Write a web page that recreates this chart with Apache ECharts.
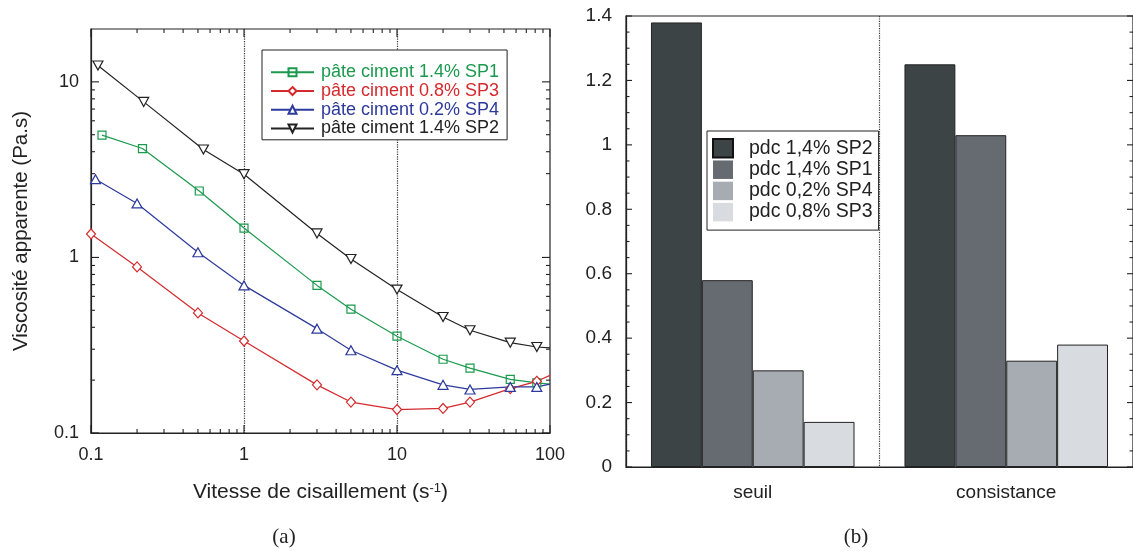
<!DOCTYPE html>
<html><head><meta charset="utf-8">
<script src="https://cdn.jsdelivr.net/npm/echarts@6/dist/echarts.min.js"></script>
<style>html,body{margin:0;padding:0;background:#fff}#c{width:1133px;height:551px}</style>
</head><body><div id="c"></div>
<script>
// ---------- (a) apparent viscosity vs shear rate ----------
const lineNames = ['pâte ciment 1.4% SP1', 'pâte ciment 0.8% SP3', 'pâte ciment 0.2% SP4', 'pâte ciment 1.4% SP2'];
const xSP1 = [0.118, 0.217, 0.51, 1, 3, 5, 10, 20, 30, 55, 82, 100];
const ySP1 = [4.97, 4.17, 2.39, 1.47, 0.693, 0.507, 0.356, 0.263, 0.234, 0.202, 0.193, 0.19];
const xSP3 = [0.1, 0.2, 0.5, 1, 3, 5, 10, 20, 30, 55, 82, 100];
const ySP3 = [1.36, 0.883, 0.483, 0.334, 0.188, 0.150, 0.136, 0.138, 0.150, 0.179, 0.197, 0.213];
const xSP4 = [0.107, 0.2, 0.5, 1, 3, 5, 10, 20, 30, 55, 82, 100];
const ySP4 = [2.79, 2.03, 1.07, 0.693, 0.393, 0.296, 0.228, 0.188, 0.177, 0.183, 0.183, 0.19];
const xSP2 = [0.111, 0.221, 0.543, 1, 3, 5, 10, 20, 30, 55, 82, 100];
const ySP2 = [12.4, 7.69, 4.12, 2.98, 1.37, 0.98, 0.656, 0.458, 0.385, 0.327, 0.309, 0.305];
const xTickLabels = [0.1, 1, 10, 100];
const yTickLabels = [0.1, 1, 10];

// ---------- (b) bar chart ----------
const barCategories = ['seuil', 'consistance'];
const barNames = ['pdc 1,4% SP2', 'pdc 1,4% SP1', 'pdc 0,2% SP4', 'pdc 0,8% SP3'];
const barSP2 = [1.38, 1.25];
const barSP1 = [0.58, 1.03];
const barSP4 = [0.30, 0.33];
const barSP3 = [0.14, 0.38];
const barYTicks = [0, 0.2, 0.4, 0.6, 0.8, 1, 1.2, 1.4];

const FONT = 'Liberation Sans, Arial, sans-serif';
const lineColors = ['#1b9a4e', '#d42a2e', '#2d3a9c', '#222222'];
const barColors = ['#3d4446', '#656b71', '#a7acb3', '#d8dbdf'];

const lineDefs = [
  {x: xSP1, y: ySP1, symbol: 'rect', size: 8, rotate: 0, fill: 'rgba(0,0,0,0)'},
  {x: xSP3, y: ySP3, symbol: 'diamond', size: [9, 10], rotate: 0, fill: '#fff'},
  {x: xSP4, y: ySP4, symbol: 'triangle', size: [10, 9], rotate: 0, fill: '#fff'},
  {x: xSP2, y: ySP2, symbol: 'triangle', size: [10, 9], rotate: 180, fill: '#fff'}
];

const isPow10 = v => Math.abs(Math.log10(v) - Math.round(Math.log10(v))) < 1e-6;

// tick decoration values for the log chart (major decades + minor 2..9)
const tickData = [];
xTickLabels.forEach(v => tickData.push([v, 1, 8, 0]));
[0.1, 1, 10].forEach(d => { for (let k = 2; k <= 9; k++) tickData.push([k * d, 1, 4, 0]); });
yTickLabels.forEach(v => tickData.push([1, v, 8, 1]));
[0.1, 1].forEach(d => { for (let k = 2; k <= 9; k++) tickData.push([1, k * d, 4, 1]); });

// tick decoration values for the bar chart (0.2 majors, 0.05 minors)
const barTickData = [];
barYTicks.forEach((v, i) => {
  barTickData.push([0, v, 6]);
  if (i < barYTicks.length - 1) for (let k = 1; k <= 3; k++) barTickData.push([0, +(v + k * 0.05).toFixed(2), 3.5]);
});

const lineSeries = lineDefs.map((d, i) => ({
  type: 'line', name: lineNames[i], xAxisIndex: 0, yAxisIndex: 0,
  data: d.x.map((xv, j) => j === d.x.length - 1 ? {value: [xv, d.y[j]], symbol: 'none'} : [xv, d.y[j]]),
  symbol: d.symbol, symbolSize: d.size, symbolRotate: d.rotate, showAllSymbol: true,
  clip: false, z: 3,
  lineStyle: {color: lineColors[i], width: 1.2},
  itemStyle: {color: d.fill, borderColor: lineColors[i], borderWidth: 1.2},
  emphasis: {disabled: true}
}));

const barData = [barSP2, barSP1, barSP4, barSP3];
const barSeries = barNames.map((n, i) => ({
  type: 'bar', name: n, xAxisIndex: 1, yAxisIndex: 1, data: barData[i],
  barGap: '0%', barCategoryGap: '19.7%',
  itemStyle: {color: barColors[i], borderColor: '#222', borderWidth: 1},
  emphasis: {disabled: true}
}));

const tickStyle = {stroke: '#222', lineWidth: 1.1};
const tickSeries = {
  type: 'custom', xAxisIndex: 0, yAxisIndex: 0, silent: true, clip: false, z: 4,
  dimensions: ['x', 'y', 'len', 'kind'], encode: {x: 0, y: 1},
  data: tickData,
  renderItem(params, api) {
    const cs = params.coordSys;
    const len = api.value(2), kind = api.value(3);
    if (kind === 0) {
      const px = api.coord([api.value(0), 1])[0];
      return {type: 'group', children: [
        {type: 'line', shape: {x1: px, y1: cs.y + cs.height, x2: px, y2: cs.y + cs.height - len}, style: tickStyle},
        {type: 'line', shape: {x1: px, y1: cs.y, x2: px, y2: cs.y + len}, style: tickStyle}
      ]};
    }
    const py = api.coord([1, api.value(1)])[1];
    return {type: 'group', children: [
      {type: 'line', shape: {x1: cs.x, y1: py, x2: cs.x + len, y2: py}, style: tickStyle},
      {type: 'line', shape: {x1: cs.x + cs.width, y1: py, x2: cs.x + cs.width - len, y2: py}, style: tickStyle}
    ]};
  }
};

const barTickSeries = {
  type: 'custom', xAxisIndex: 1, yAxisIndex: 1, silent: true, clip: false, z: 4,
  dimensions: ['x', 'y', 'len'], encode: {x: 0, y: 1},
  data: barTickData,
  renderItem(params, api) {
    const cs = params.coordSys;
    const len = api.value(2);
    const py = api.coord([0, api.value(1)])[1];
    return {type: 'group', children: [
      {type: 'line', shape: {x1: cs.x, y1: py, x2: cs.x + len, y2: py}, style: tickStyle},
      {type: 'line', shape: {x1: cs.x + cs.width, y1: py, x2: cs.x + cs.width - len, y2: py}, style: tickStyle}
    ]};
  }
};

const chart = echarts.init(document.getElementById('c'), null, {renderer: 'canvas'});
chart.setOption({
  animation: false,
  backgroundColor: '#fff',
  textStyle: {fontFamily: FONT},
  grid: [
    {left: 91, top: 29, width: 459, height: 404, show: true, borderColor: '#222', borderWidth: 1.2, backgroundColor: 'transparent'},
    {left: 626, top: 16, width: 510, height: 451, show: true, borderColor: '#222', borderWidth: 1.2, backgroundColor: 'transparent'}
  ],
  legend: [
    {
      orient: 'vertical', left: 262, top: 50, padding: [13, 8, 2, 8],
      itemWidth: 43, itemHeight: 10, itemGap: 0, selectedMode: false,
      borderColor: '#222', borderWidth: 1, backgroundColor: '#fff',
      textStyle: {fontSize: 18, fontFamily: FONT, lineHeight: 18.7, padding: [0, 0, 0, 2]},
      data: lineNames.map((n, i) => ({name: n, textStyle: {color: lineColors[i]}}))
    },
    {
      orient: 'vertical', left: 707, top: 131, padding: [7, 6, 8, 5],
      itemWidth: 20, itemHeight: 18.5, itemGap: 1.2, selectedMode: false, icon: 'rect',
      borderColor: '#222', borderWidth: 1, backgroundColor: '#fff',
      textStyle: {fontSize: 19.5, fontFamily: FONT, color: '#222', lineHeight: 18.5, padding: [0, 0, 0, 11]},
      data: barNames.map((n, i) => ({name: n, itemStyle: i === 0 ? {borderColor: '#111', borderWidth: 2} : {borderWidth: 0}}))
    }
  ],
  xAxis: [
    {
      type: 'log', logBase: 10, gridIndex: 0, min: 0.1, max: 100,
      axisLine: {show: true, lineStyle: {color: '#222', width: 1.2}},
      axisTick: {show: false},
      axisLabel: {fontSize: 18, color: '#222', margin: 13, formatter: v => isPow10(v) ? String(+v.toPrecision(6)) : ''},
      splitLine: {show: true, showMinLine: false, showMaxLine: false, lineStyle: {color: '#333', type: 'dotted', width: 1.2}},
      name: 'Vitesse de cisaillement (s{sup|-1})', nameLocation: 'middle', nameGap: 49,
      nameTextStyle: {fontSize: 21, color: '#222', rich: {sup: {fontSize: 13, color: '#222', verticalAlign: 'top'}}}
    },
    {
      type: 'category', gridIndex: 1, data: barCategories,
      axisLine: {show: true, lineStyle: {color: '#222', width: 1.2}},
      axisTick: {show: false},
      axisLabel: {fontSize: 19, color: '#222', margin: 16},
      splitLine: {show: true, lineStyle: {color: '#333', type: 'dotted', width: 1.2}}
    }
  ],
  yAxis: [
    {
      type: 'log', logBase: 10, gridIndex: 0, min: 0.1, max: 20,
      axisLine: {show: true, lineStyle: {color: '#222', width: 1.2}},
      axisTick: {show: false},
      axisLabel: {fontSize: 18, color: '#222', margin: 12, formatter: v => isPow10(v) ? String(+v.toPrecision(6)) : ''},
      splitLine: {show: false},
      name: 'Viscosité apparente (Pa.s)', nameLocation: 'middle', nameGap: 59,
      nameTextStyle: {fontSize: 20.5, color: '#222'}
    },
    {
      type: 'value', gridIndex: 1, min: 0, max: 1.4, interval: 0.2,
      axisLine: {show: true, lineStyle: {color: '#222', width: 1.2}},
      axisTick: {show: false},
      axisLabel: {fontSize: 19, color: '#222', margin: 14},
      splitLine: {show: false}
    }
  ],
  graphic: [
    {type: 'text', x: 284, y: 537, style: {text: '(a)', font: '21px "Liberation Serif", serif', fill: '#222', align: 'center', verticalAlign: 'middle'}},
    {type: 'text', x: 856, y: 537, style: {text: '(b)', font: '21px "Liberation Serif", serif', fill: '#222', align: 'center', verticalAlign: 'middle'}}
  ],
  series: [...lineSeries, tickSeries, ...barSeries, barTickSeries]
});
</script>
</body></html>
